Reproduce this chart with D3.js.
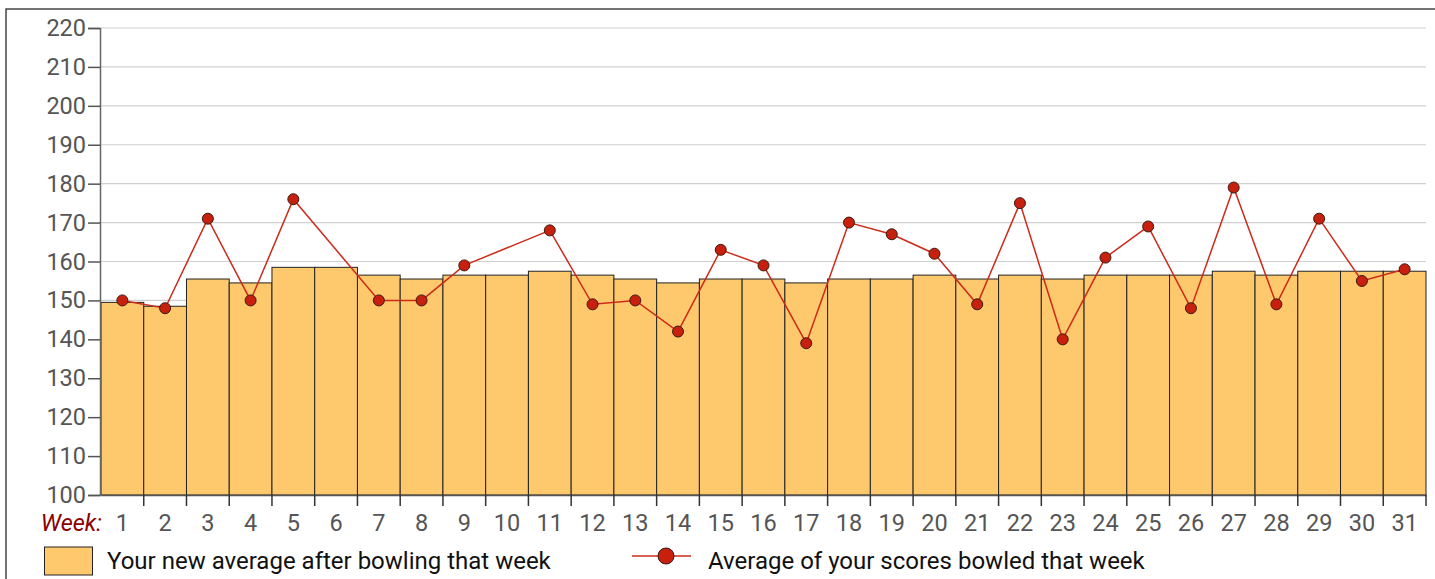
<!DOCTYPE html>
<html><head><meta charset="utf-8">
<script src="https://cdn.jsdelivr.net/npm/d3@7"></script>
<style>body{margin:0;background:#fff;font-family:Roboto,sans-serif;}svg{display:block}</style>
</head><body><svg id="c" width="1435" height="579"></svg>
<script>
const weeks = d3.range(1, 32).map(String);
const newAverage = [149.5,148.5,155.5,154.5,158.5,158.5,156.5,155.5,156.5,156.5,157.5,156.5,155.5,154.5,155.5,155.5,154.5,155.5,155.5,156.5,155.5,156.5,155.5,156.5,156.5,156.5,157.5,156.5,157.5,157.5,157.5];
const weekScores = [150,148,171,150,176,null,150,150,159,null,168,149,150,142,163,159,139,170,167,162,149,175,140,161,169,148,179,149,171,155,158];
const yTicks = [100,110,120,130,140,150,160,170,180,190,200,210,220];
const legendLabels = ["Your new average after bowling that week","Average of your scores bowled that week"];

const svg = d3.select("#c");
const L = 101, R = 1426, T = 28, B = 495;
const x = d3.scaleBand().domain(weeks).range([L, R]).padding(0);
const y = d3.scaleLinear().domain([100, 220]).range([B, T]);
const FS = "23.5px";

// frame
svg.append("rect").attr("x",6).attr("y",9).attr("width",1440).attr("height",600)
  .attr("fill","none").attr("stroke","#444").attr("stroke-width",1.5);

// grid
svg.append("g").selectAll("line").data(yTicks.slice(1)).join("line")
  .attr("x1",L).attr("x2",R).attr("y1",d=>y(d)).attr("y2",d=>y(d))
  .attr("stroke","#d0d0d0").attr("stroke-width",1.2);

// bars
svg.append("g").selectAll("rect").data(newAverage).join("rect")
  .attr("x",(d,i)=>x(weeks[i])).attr("width",x.bandwidth())
  .attr("y",d=>y(d)).attr("height",d=>B-y(d))
  .attr("fill","#fec86c").attr("stroke","#222").attr("stroke-width",1);

// y axis
const ya = svg.append("g").attr("transform",`translate(${L-1},0)`)
  .call(d3.axisLeft(y).tickValues(yTicks).tickSize(12).tickPadding(2));
ya.select(".domain").attr("stroke","#666").attr("stroke-width",1.5);
ya.selectAll(".tick line").attr("stroke","#555").attr("stroke-width",1.5);
ya.selectAll("text").attr("fill","#555").style("font-size",FS).style("font-family","Roboto");

// x axis
const xa = svg.append("g").attr("transform",`translate(0,${B})`)
  .call(d3.axisBottom(x).tickSize(0).tickPadding(19));
xa.select(".domain").attr("stroke","#555").attr("stroke-width",1.5);
xa.selectAll("text").attr("fill","#555").style("font-size",FS).style("font-family","Roboto");
// boundary ticks
svg.append("g").selectAll("line").data(weeks.slice(1).concat(["end"])).join("line")
  .attr("x1",d=>d==="end"?R:x(d)).attr("x2",d=>d==="end"?R:x(d))
  .attr("y1",B).attr("y2",B+11).attr("stroke","#333").attr("stroke-width",1.5);
svg.append("text").attr("x",102).attr("y",531).attr("text-anchor","end")
  .attr("fill","#8b0000").style("font-style","italic").style("font-size",FS).text("Week:");

// line
const pts = weekScores.map((v,i)=>({w:weeks[i],v})).filter(d=>d.v!==null);
const line = d3.line().x(d=>x(d.w)+x.bandwidth()/2).y(d=>y(d.v));
svg.append("path").datum(pts).attr("d",line).attr("fill","none")
  .attr("stroke","#cc2a1a").attr("stroke-width",1.5);
svg.append("g").selectAll("circle").data(pts).join("circle")
  .attr("cx",d=>x(d.w)+x.bandwidth()/2).attr("cy",d=>y(d.v)).attr("r",5.5)
  .attr("fill","#c8200f").attr("stroke","#3a1a10").attr("stroke-width",1);

// legend
svg.append("rect").attr("x",44.5).attr("y",547).attr("width",48).attr("height",28)
  .attr("fill","#fec86c").attr("stroke","#222").attr("stroke-width",1);
svg.append("text").attr("x",107).attr("y",569).attr("fill","#111").style("font-size","24px").text(legendLabels[0]);
svg.append("line").attr("x1",632).attr("x2",691).attr("y1",556).attr("y2",556).attr("stroke","#cc2a1a").attr("stroke-width",1.5);
svg.append("circle").attr("cx",666).attr("cy",556).attr("r",8).attr("fill","#c8200f").attr("stroke","#3a1a10").attr("stroke-width",1);
svg.append("text").attr("x",708).attr("y",569).attr("fill","#111").style("font-size","24px").text(legendLabels[1]);
</script></body></html>
